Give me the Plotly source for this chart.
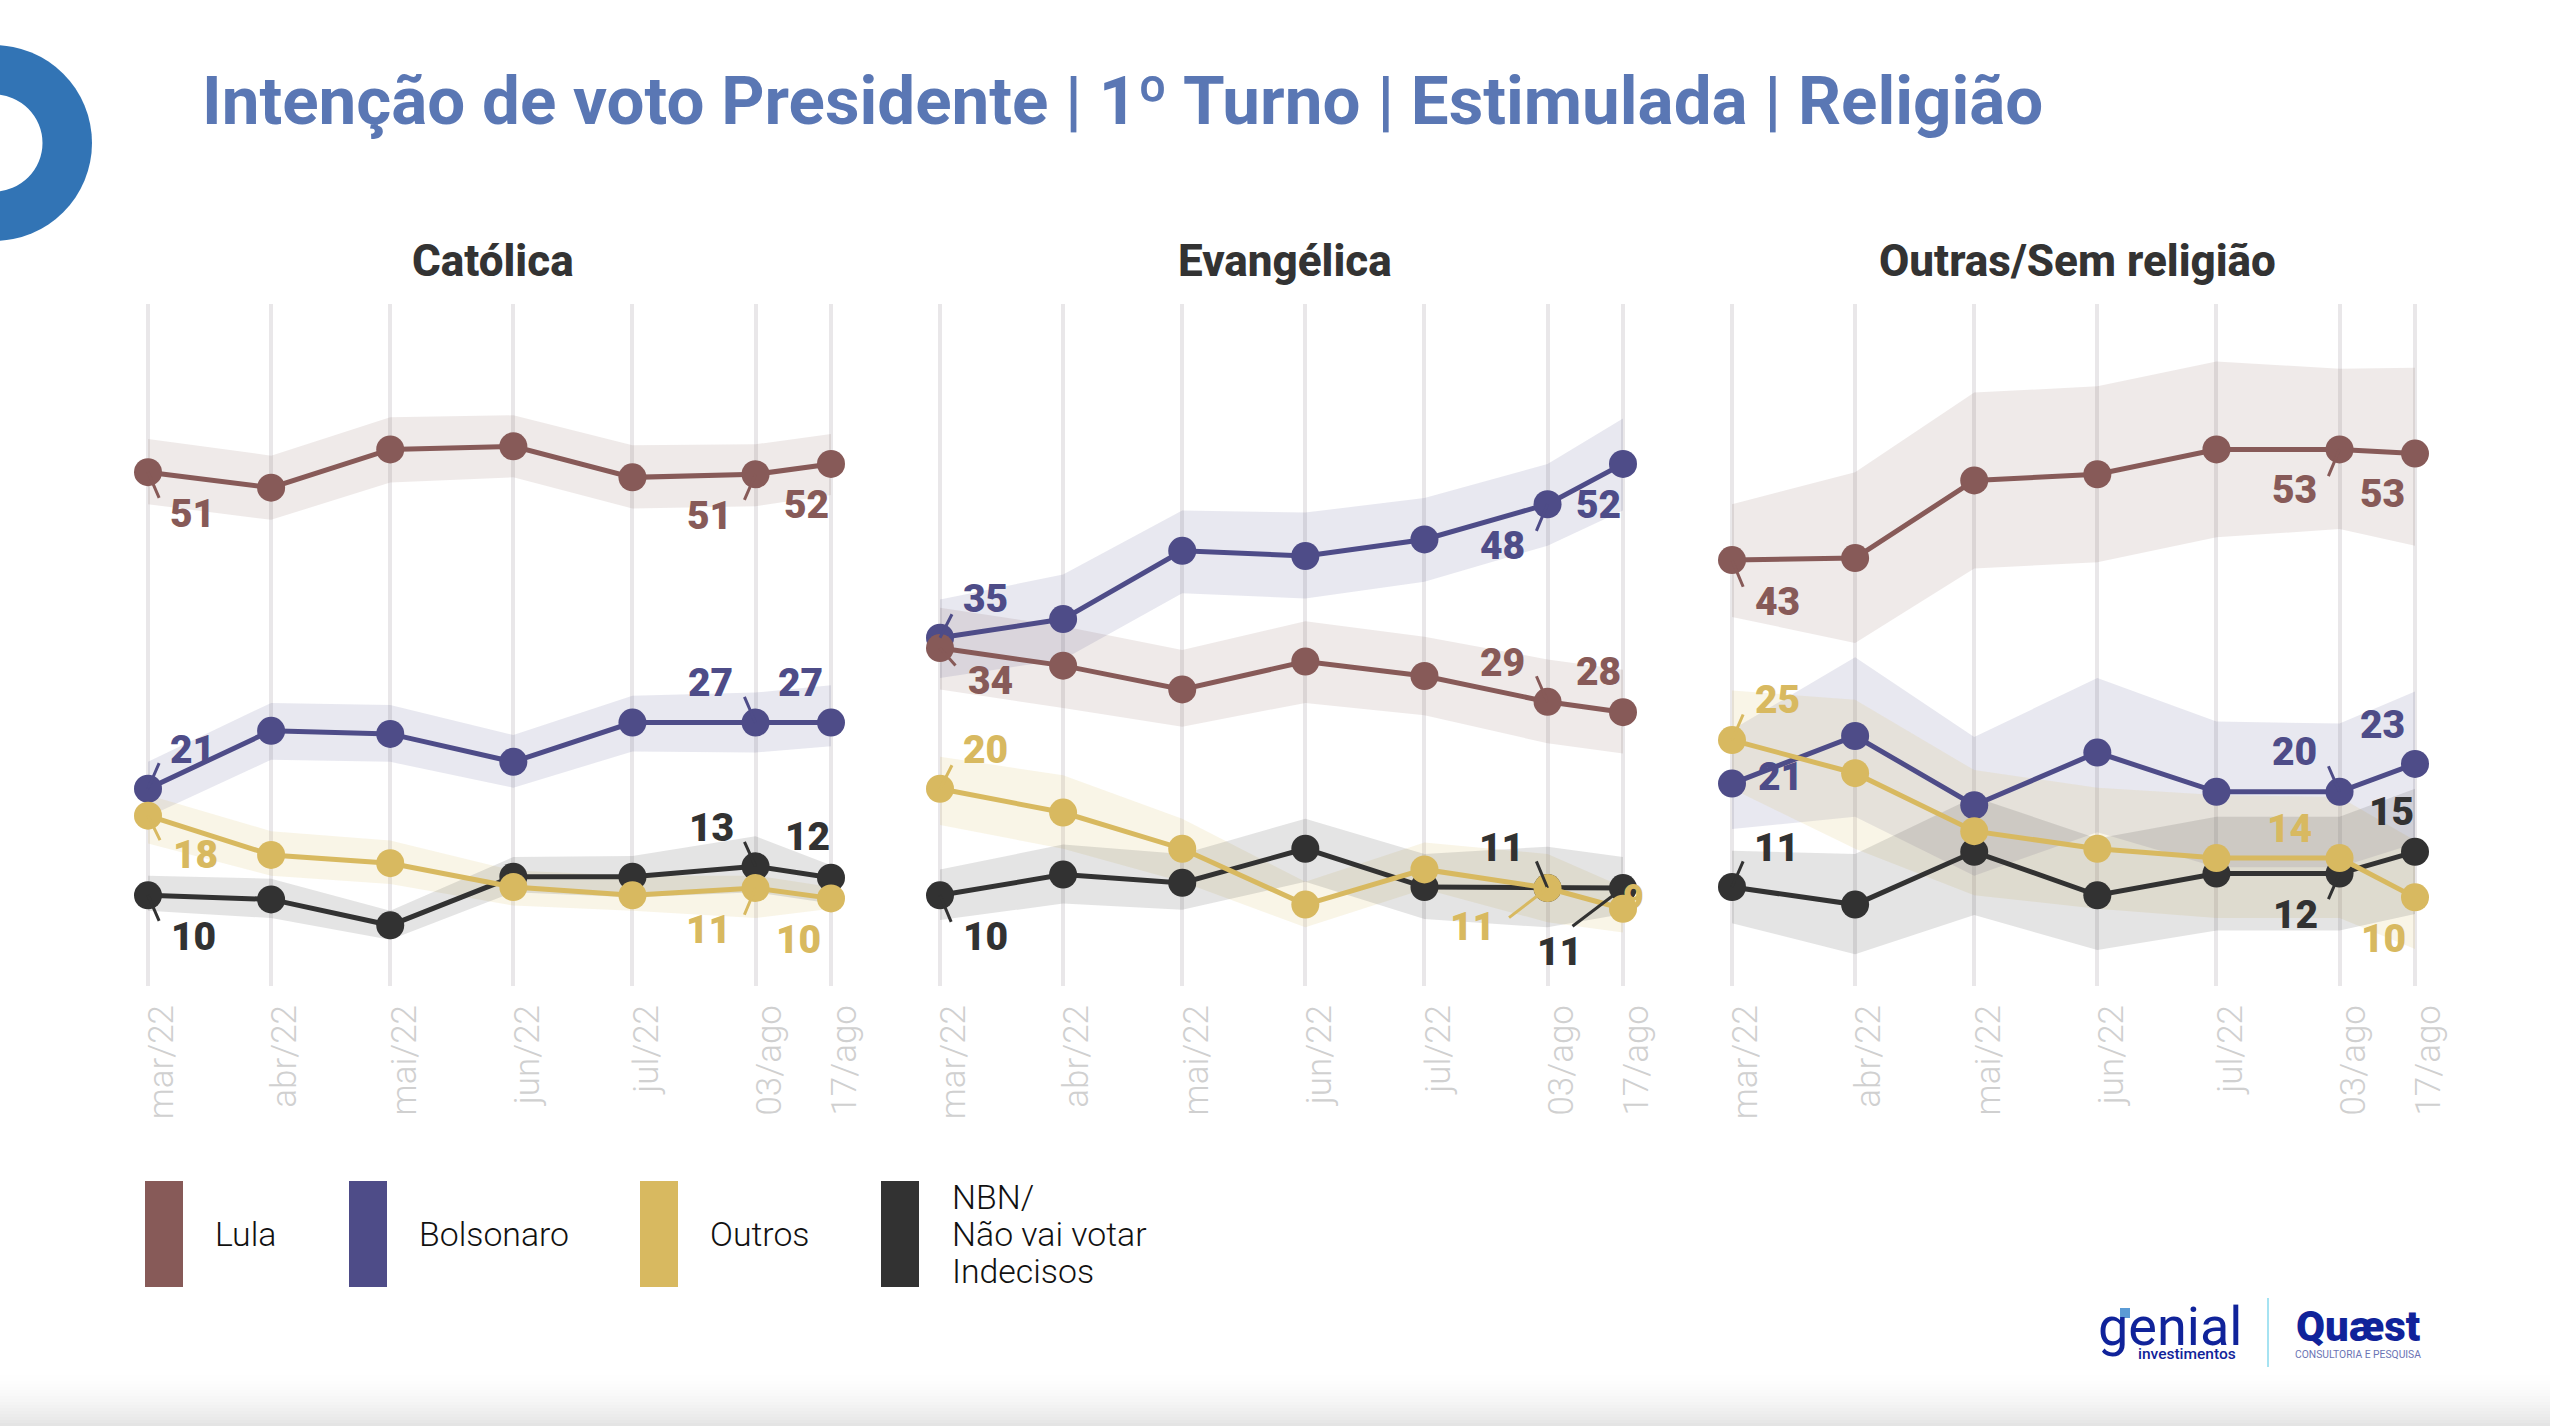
import plotly.graph_objects as go

W, H = 2550, 1426

# ---------- data ----------
x_days = [0, 31, 61, 92, 122, 153, 172]
tick_labels = ["mar/22", "abr/22", "mai/22", "jun/22", "jul/22", "03/ago", "17/ago"]
series_names = ["Lula", "Bolsonaro", "Outros", "NBN"]
panel_titles = ["Católica", "Evangélica", "Outras/Sem religião"]

cat_lula = [51.2, 49.7, 53.4, 53.7, 50.7, 51.0, 52.0]
cat_lula_hi = [54.4, 52.8, 56.5, 56.7, 53.8, 53.9, 54.9]
cat_lula_lo = [48.1, 46.6, 50.2, 50.7, 47.7, 47.9, 49.0]
cat_bols = [20.6, 26.2, 25.9, 23.2, 27.0, 27.0, 27.0]
cat_bols_hi = [23.2, 28.9, 28.7, 25.8, 29.6, 29.9, 30.6]
cat_bols_lo = [17.9, 23.4, 23.2, 20.7, 24.2, 24.1, 24.7]
cat_outros = [18.0, 14.2, 13.4, 11.1, 10.3, 11.0, 10.0]
cat_outros_hi = [20.0, 16.5, 15.6, 12.7, 12.2, 12.2, 11.1]
cat_outros_lo = [15.3, 12.2, 11.4, 9.3, 8.8, 8.1, 9.0]
cat_nbn = [10.3, 9.9, 7.4, 12.1, 12.1, 13.1, 12.0]
cat_nbn_hi = [12.2, 11.9, 8.8, 14.0, 14.1, 16.0, 13.2]
cat_nbn_lo = [8.8, 8.1, 6.0, 10.6, 10.1, 10.6, 9.5]

eva_lula = [34.2, 32.5, 30.2, 32.9, 31.5, 29.0, 28.0]
eva_lula_hi = [38.1, 36.3, 34.0, 36.8, 35.3, 33.1, 32.1]
eva_lula_lo = [30.2, 28.4, 26.6, 28.9, 27.7, 25.0, 24.0]
eva_bols = [35.2, 37.0, 43.6, 43.1, 44.7, 48.1, 52.0]
eva_bols_hi = [38.9, 41.3, 47.5, 47.3, 48.7, 52.0, 56.4]
eva_bols_lo = [31.3, 33.1, 39.5, 39.0, 40.6, 44.1, 47.5]
eva_outros = [20.6, 18.3, 14.8, 9.4, 12.8, 11.0, 9.0]
eva_outros_hi = [23.7, 21.9, 17.7, 11.6, 15.4, 14.3, 11.1]
eva_outros_lo = [17.1, 14.8, 11.6, 7.2, 10.9, 7.7, 6.7]
eva_nbn = [10.3, 12.3, 11.5, 14.8, 11.1, 11.0, 11.0]
eva_nbn_hi = [12.8, 15.2, 14.3, 17.7, 14.3, 15.0, 14.0]
eva_nbn_lo = [7.9, 9.5, 8.9, 11.6, 8.0, 7.2, 8.5]

out_lula = [42.7, 42.9, 50.4, 51.0, 53.4, 53.4, 53.0]
out_lula_hi = [48.1, 51.2, 58.9, 59.5, 61.9, 61.2, 61.3]
out_lula_lo = [37.2, 34.7, 41.9, 42.5, 44.9, 45.7, 44.1]
out_bols = [21.1, 25.7, 19.0, 24.1, 20.3, 20.3, 23.0]
out_bols_hi = [26.3, 33.3, 25.6, 31.3, 27.1, 26.9, 30.0]
out_bols_lo = [16.7, 17.9, 12.2, 16.4, 13.0, 13.0, 15.3]
out_outros = [25.3, 22.1, 16.5, 14.8, 13.9, 13.9, 10.1]
out_outros_hi = [30.1, 29.2, 22.4, 20.7, 20.0, 19.8, 15.6]
out_outros_lo = [20.6, 14.8, 10.3, 9.0, 8.1, 8.1, 5.1]
out_nbn = [11.1, 9.4, 14.5, 10.3, 12.4, 12.4, 14.5]
out_nbn_hi = [14.6, 14.3, 19.8, 15.8, 17.9, 17.9, 20.6]
out_nbn_lo = [7.6, 4.6, 8.4, 5.0, 6.9, 6.9, 8.5]

panels = [
    {"Lula": (cat_lula, cat_lula_hi, cat_lula_lo), "Bolsonaro": (cat_bols, cat_bols_hi, cat_bols_lo),
     "Outros": (cat_outros, cat_outros_hi, cat_outros_lo), "NBN": (cat_nbn, cat_nbn_hi, cat_nbn_lo)},
    {"Lula": (eva_lula, eva_lula_hi, eva_lula_lo), "Bolsonaro": (eva_bols, eva_bols_hi, eva_bols_lo),
     "Outros": (eva_outros, eva_outros_hi, eva_outros_lo), "NBN": (eva_nbn, eva_nbn_hi, eva_nbn_lo)},
    {"Lula": (out_lula, out_lula_hi, out_lula_lo), "Bolsonaro": (out_bols, out_bols_hi, out_bols_lo),
     "Outros": (out_outros, out_outros_hi, out_outros_lo), "NBN": (out_nbn, out_nbn_hi, out_nbn_lo)},
]

# label text per panel: series, point index, text
cat_labels = [("Lula", 0, "51"), ("Lula", 5, "51"), ("Lula", 6, "52"), ("Bolsonaro", 0, "21"), ("Bolsonaro", 5, "27"),
              ("Bolsonaro", 6, "27"), ("Outros", 0, "18"), ("Outros", 5, "11"), ("Outros", 6, "10"),
              ("NBN", 0, "10"), ("NBN", 5, "13"), ("NBN", 6, "12")]
eva_labels = [("Lula", 0, "34"), ("Bolsonaro", 0, "35"), ("Outros", 0, "20"), ("NBN", 0, "10"), ("Bolsonaro", 5, "48"),
              ("Bolsonaro", 6, "52"), ("Lula", 5, "29"), ("Lula", 6, "28"), ("NBN", 5, "11"), ("Outros", 5, "11"),
              ("NBN", 6, "11"), ("Outros", 6, "9")]
out_labels = [("Lula", 0, "43"), ("Lula", 5, "53"), ("Lula", 6, "53"), ("Bolsonaro", 0, "21"), ("Bolsonaro", 5, "20"),
              ("Bolsonaro", 6, "23"), ("Outros", 0, "25"), ("Outros", 5, "14"), ("Outros", 6, "10"),
              ("NBN", 0, "11"), ("NBN", 5, "12"), ("NBN", 6, "15")]
panel_labels = [cat_labels, eva_labels, out_labels]

# ---------- styling / placement (pixels) ----------
# label offsets: text dx, dy, leader dx, dy (or None)
cat_off = [(44, 39, 12, 26), (-46, 39, -12, 26), (-25, 38, None, None), (44, -37, 12, -26), (-45, -38, -12, -26),
           (-31, -38, None, None), (47, 37, 13, 25), (-47, 39, -12, 27), (-33, 39, None, None),
           (45, 39, 12, 26), (-44, -37, -12, -25), (-24, -39, None, None)]
eva_off = [(50, 31, 17, 18), (45, -37, 13, -24), (45, -37, 13, -24), (45, 39, 12, 27), (-45, 39, -12, 27),
           (-25, 38, None, None), (-45, -37, -12, -26), (-25, -38, None, None), (-46, -38, -12, -27),
           (-75, 36, -40, 29), (-64, 60, -52, 37), (10, -11, None, None)]
out_off = [(45, 39, 12, 27), (-45, 38, -12, 27), (-33, 38, None, None), (48, -7, None, None), (-45, -38, -12, -26),
           (-33, -37, None, None), (45, -38, 12, -26), (-50, -28, None, None), (-32, 39, None, None),
           (44, -37, 12, -26), (-44, 39, -12, 26), (-24, -38, None, None)]
panel_offs = [cat_off, eva_off, out_off]
DY = 1.062
TEXT_DROP = 0.5

colors = {"Lula": "#875a58", "Bolsonaro": "#4e4c88", "Outros": "#d8b960", "NBN": "#323232"}
bands = {"Lula": "rgba(135,90,88,0.13)", "Bolsonaro": "rgba(78,80,136,0.13)",
         "Outros": "rgba(216,185,96,0.15)", "NBN": "rgba(50,50,50,0.13)"}
draw_order = ["Bolsonaro", "Lula", "NBN", "Outros"]
panel_left = [148, 940, 1732]
panel_span = 683
pad = 40
plot_top, plot_bottom = 304, 986
y_range = [1.53, 67.46]
px_day = panel_span / x_days[-1]
FONT = "Roboto"

fig = go.Figure()
layout = dict(
    width=W, height=H, margin=dict(l=0, r=0, t=0, b=0, pad=0), autosize=False,
    paper_bgcolor="white", plot_bgcolor="white", showlegend=False, font=dict(family=FONT),
)
ann, shapes = [], []

for p, data in enumerate(panels):
    sfx = "" if p == 0 else str(p + 1)
    l = panel_left[p]
    layout["xaxis" + sfx] = dict(
        domain=[(l - pad) / W, (l + panel_span + pad) / W],
        range=[-pad / px_day, x_days[-1] + pad / px_day],
        tickmode="array", tickvals=x_days, ticktext=tick_labels, tickangle=-90,
        showgrid=True, gridcolor="#e9e7e9", gridwidth=4, zeroline=False, showline=False, ticks="",
        tickfont=dict(family=FONT, size=35, color="#d0d0d0", weight=300),
        ticklabelstandoff=11, ticklabelshift=14, anchor="y" + sfx,
    )
    layout["yaxis" + sfx] = dict(
        domain=[1 - plot_bottom / H, 1 - plot_top / H], range=y_range, visible=False,
        showgrid=False, zeroline=False, anchor="x" + sfx,
    )
    xa, ya = "x" + sfx, "y" + sfx
    for s in series_names:
        _, hi, lo = data[s]
        fig.add_trace(go.Scatter(x=x_days + x_days[::-1], y=hi + lo[::-1], xaxis=xa, yaxis=ya, mode="lines",
                                 fill="toself", fillcolor=bands[s], line=dict(width=0, color="rgba(0,0,0,0)"),
                                 hoverinfo="skip", name=s + " margem"))
    for s in draw_order:
        v, _, _ = data[s]
        fig.add_trace(go.Scatter(x=x_days, y=v, xaxis=xa, yaxis=ya, mode="lines+markers", name=s, cliponaxis=False,
                                 line=dict(color=colors[s], width=5), marker=dict(color=colors[s], size=28)))
    for (s, i, txt), (dx, dy, lx, ly) in zip(panel_labels[p], panel_offs[p]):
        yv = data[s][0][i]
        if lx is not None:
            ann.append(dict(x=x_days[i], y=yv, xref=xa, yref=ya, text=" ", showarrow=True, arrowhead=0, arrowwidth=3,
                            arrowcolor=colors[s], axref="pixel", ayref="pixel", ax=lx, ay=ly * DY,
                            font=dict(size=1)))
        size = 36 if txt == "9" else 39
        ann.append(dict(x=x_days[i], y=yv, xref=xa, yref=ya, text=txt, showarrow=False, xshift=dx,
                        yshift=-dy * DY - TEXT_DROP,
                        font=dict(family=FONT, size=size, color=colors[s], weight=900)))


def paper_text(px, py, text, size, color, weight=400, xanchor="left", family=FONT):
    ann.append(dict(x=px / W, y=1 - py / H, xref="paper", yref="paper", text=text, showarrow=False, xanchor=xanchor,
                    yanchor="middle", font=dict(family=family, size=size, color=color, weight=weight)))


def rect(x0, y0, x1, y1, color, layer="above"):
    shapes.append(dict(type="rect", xref="paper", yref="paper", x0=x0 / W, x1=x1 / W, y0=1 - y0 / H, y1=1 - y1 / H,
                       fillcolor=color, line=dict(width=0), layer=layer))


# title and panel titles
paper_text(200, 101, "Intenção de voto Presidente | 1º Turno | Estimulada | Religião", 67.3, "#5a77b4", 700)
for t, cx in zip(panel_titles, [493, 1285, 2077]):
    paper_text(cx, 261, t, 44, "#333333", 800, "center")

# legend
for x0, s in zip([145, 349, 640, 881], series_names):
    rect(x0, 1181, x0 + 38, 1287, colors[s])
paper_text(213, 1234, "Lula", 33.8, "#111111", 300)
paper_text(417, 1234, "Bolsonaro", 33.8, "#111111", 300)
paper_text(708, 1234, "Outros", 33.8, "#111111", 300)
paper_text(950, 1197, "NBN/", 33.8, "#111111", 300)
paper_text(950, 1234, "Não vai votar", 33.8, "#111111", 300)
paper_text(950, 1271, "Indecisos", 33.8, "#111111", 300)

# corner ring
for r, c in [(98, "#3274b5"), (48.5, "white")]:
    shapes.append(dict(type="circle", xref="paper", yref="paper", x0=(-6 - r) / W, x1=(-6 + r) / W,
                       y0=1 - (143 + r) / H, y1=1 - (143 - r) / H, fillcolor=c, line=dict(width=0), layer="below"))

# bottom fade
steps = 20
for k in range(steps):
    g = 255 - int((255 - 228) * ((k + 1) / steps) ** 2)
    rect(0, 1366 + k * 3, W, 1366 + (k + 1) * 3 + 1, f"rgb({g},{g},{g})", layer="below")

# logos
paper_text(2096, 1326, "genial", 54, "#10239a", 400)
rect(2120, 1308, 2130, 1318, "#5b9bd5")
paper_text(2238, 1354, "investimentos", 15.5, "#10239a", 500, "right")
rect(2267, 1298, 2269, 1367, "#a6e3f2")
paper_text(2294, 1326, "Quæst", 42, "#10239a", 900)
paper_text(2293, 1354, "CONSULTORIA E PESQUISA", 10.3, "#6b74b4", 400)

fig.update_layout(**layout, annotations=ann, shapes=shapes)
fig.write_html("out.html", config={"displayModeBar": False},
               post_script="document.body.style.margin='0';document.body.style.background='white';")
